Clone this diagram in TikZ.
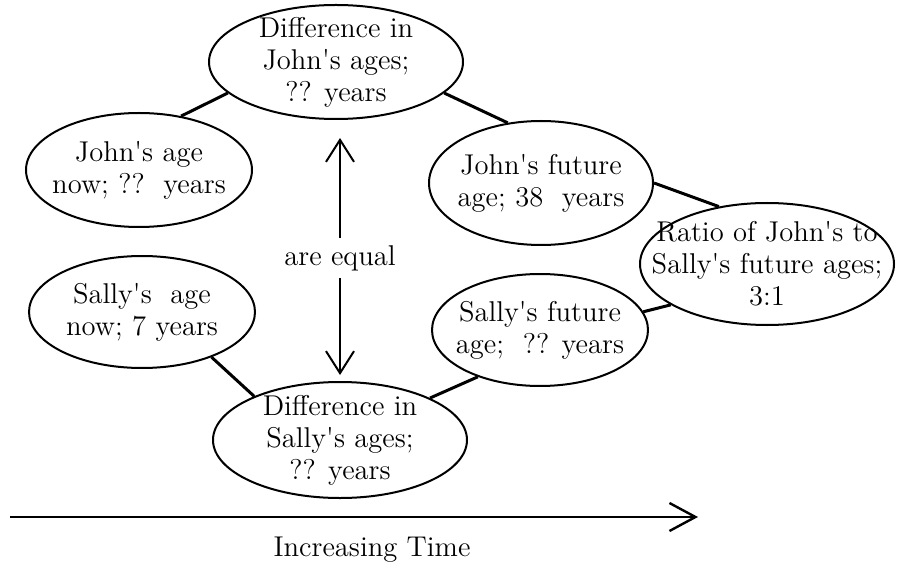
\documentclass[tikz,border=0pt]{standalone}
\usetikzlibrary{shapes.geometric,arrows.meta}
\newcommand{\qs}{\textquotesingle}

\begin{document}
\begin{tikzpicture}[x=0.5pt,y=-0.5pt,
  every node/.style={font=\fontsize{14.3}{16}\selectfont},
  oval/.style={draw,ellipse,line width=1pt,inner sep=0pt},
  link/.style={line width=1.5pt},
  vee/.style={line width=1pt,-{Straight Barb[length=11pt,width=14pt]}}]

\useasboundingbox (0,0) rectangle (897,571);

% ovals, text sits in the middle
\node[oval,minimum width=127pt,minimum height=57pt,
  label={[align=center]center:{Difference in\\John\qs s ages;\\?? years}}] (jdiff) at (336,62) {};
\node[oval,minimum width=113pt,minimum height=57pt,
  label={[align=center]center:{John\qs s age\\now; ??\ \ years}}] (jnow) at (139,170) {};
\node[oval,minimum width=112pt,minimum height=62pt,
  label={[align=center]center:{John\qs s future\\age; 38\ \ years}}] (jfut) at (541,183) {};
\node[oval,minimum width=127pt,minimum height=61pt,
  label={[align=center]center:{Ratio of John\qs s to\\Sally\qs s future ages;\\3:1}}] (ratio) at (767,264) {};
\node[oval,minimum width=113pt,minimum height=56pt,
  label={[align=center]center:{Sally\qs s\ \ age\\now; 7 years}}] (snow) at (142,312) {};
\node[oval,minimum width=108pt,minimum height=56pt,
  label={[align=center]center:{Sally\qs s future\\age;\ \ ?? years}}] (sfut) at (540,330) {};
\node[oval,minimum width=127pt,minimum height=58pt,
  label={[align=center]center:{Difference in\\Sally\qs s ages;\\?? years}}] (sdiff) at (340,440) {};

% links
\draw[link] (jnow.52) -- (jdiff.196);
\draw[link] (jdiff.-16) -- (jfut.119);
\draw[link] (jfut.0) -- (ratio.130);
\draw[link] (sfut.10) -- (ratio.203);
\draw[link] (snow.-33) -- (sdiff.153);
\draw[link] (sfut.217) -- (sdiff.25);

% are equal
\node (eq) at (340,258) {are equal};
\coordinate (eqtop) at (340,138);
\coordinate (eqbot) at (340,375);
\draw[vee] (eq) -- (eqtop);
\draw[vee] (eq) -- (eqbot);

% time axis
\coordinate (t0) at (10,517);
\coordinate (t1) at (698,517);
\draw[vee,line width=1.2pt,-{Straight Barb[length=13pt,width=14pt]}] (t0) -- (t1);
\node (timelbl) at (372,550) {Increasing Time};

\end{tikzpicture}
\end{document}
